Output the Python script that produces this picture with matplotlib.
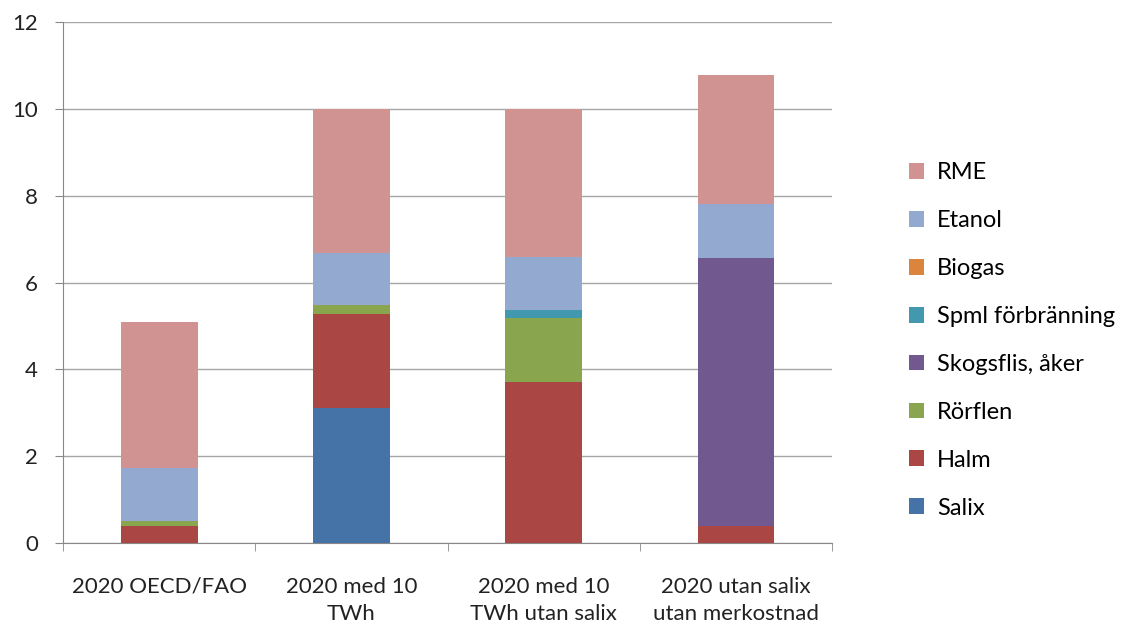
import numpy as np
from matplotlib import pyplot as plt

categories = ["2020 OECD/FAO", "2020 med 10\nTWh", "2020 med 10\nTWh utan salix",
              "2020 utan salix\nutan merkostnad"]

salix = [0, 3.12, 0, 0]
halm = [0.40, 2.16, 3.71, 0.40]
rorflen = [0.11, 0.20, 1.48, 0]
skogsflis = [0, 0, 0, 6.17]
spml = [0, 0, 0.17, 0]
biogas = [0, 0, 0, 0]
etanol = [1.22, 1.21, 1.24, 1.24]
rme = [3.36, 3.31, 3.40, 2.97]

series = [
    ("Salix", salix, "#4572A7"),
    ("Halm", halm, "#AA4643"),
    ("Rörflen", rorflen, "#89A54E"),
    ("Skogsflis, åker", skogsflis, "#71588F"),
    ("Spml förbränning", spml, "#4198AF"),
    ("Biogas", biogas, "#DB843D"),
    ("Etanol", etanol, "#93A9CF"),
    ("RME", rme, "#D19392"),
]

plt.rcParams['font.family'] = ['Lato', 'DejaVu Sans']

fig = plt.figure(figsize=(11.26, 6.28), dpi=100)
ax = fig.add_axes([0.056, 0.135, 0.683, 0.83])

x = np.arange(len(categories))
bottom = np.zeros(len(categories))
for name, vals, col in series:
    ax.bar(x, vals, 0.4, bottom=bottom, color=col, label=name, zorder=3)
    bottom += np.array(vals)

ax.set_xlim(-0.5, 3.5)
ax.set_ylim(0, 12)
ax.set_yticks(range(0, 13, 2))
ax.yaxis.grid(True, color="#a6a6a6", linewidth=1, zorder=0)
ax.set_xticks(x)
ax.set_xticklabels(categories, fontsize=16, color="#222222", linespacing=1.45)
ax.set_xticks(np.arange(-0.5, 4, 1), minor=True)
ax.tick_params(axis="x", which="major", length=0, pad=24)
ax.tick_params(axis="x", which="minor", length=6, color="#888888")
ax.tick_params(axis="y", labelsize=16, labelcolor="#222222", length=6, color="#888888", pad=12)
for s in ["top", "right"]:
    ax.spines[s].set_visible(False)
for s in ["left", "bottom"]:
    ax.spines[s].set_color("#888888")

handles, labels = ax.get_legend_handles_labels()
fig.legend(handles[::-1], labels[::-1], loc="center left", bbox_to_anchor=(0.788, 0.458),
           frameon=False, fontsize=17, handlelength=0.65, handleheight=0.65,
           labelspacing=1.14, handletextpad=0.55)

fig.savefig("out.png", dpi=100)
